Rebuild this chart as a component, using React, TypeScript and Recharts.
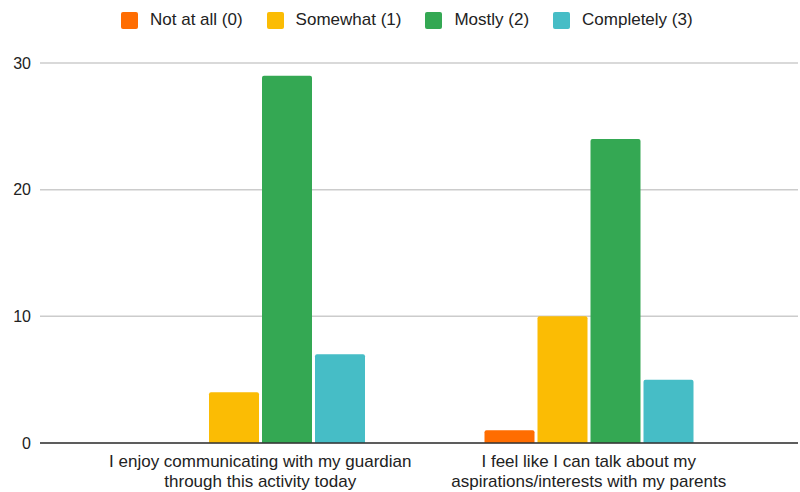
import React from 'react';
import { BarChart, Bar, XAxis, YAxis, CartesianGrid, Text } from 'recharts';

const statements = [
  'I enjoy communicating with my guardian through this activity today',
  'I feel like I can talk about my aspirations/interests with my parents',
];
const notAtAll = [0, 1];
const somewhat = [4, 10];
const mostly = [29, 24];
const completely = [7, 5];
const yTicks = [0, 10, 20, 30];

const SERIES = [
  { key: 'notAtAll', name: 'Not at all (0)', color: '#ff6d01' },
  { key: 'somewhat', name: 'Somewhat (1)', color: '#fbbc04' },
  { key: 'mostly', name: 'Mostly (2)', color: '#34a853' },
  { key: 'completely', name: 'Completely (3)', color: '#46bdc6' },
];

const data = statements.map((s, i) => ({
  statement: s,
  notAtAll: notAtAll[i],
  somewhat: somewhat[i],
  mostly: mostly[i],
  completely: completely[i],
}));

const FONT = 'Arial, "Liberation Sans", sans-serif';

// legend sits above the plot, outside the chart's own layout
const LegendRow = () => (
  <div style={{ position: 'absolute', top: 10, left: 121, display: 'flex', alignItems: 'center', fontFamily: FONT, fontSize: 17, color: '#222', lineHeight: '20px' }}>
    {SERIES.map((s) => (
      <div key={s.key} style={{ display: 'flex', alignItems: 'center', marginRight: 24 }}>
        <span style={{ width: 17, height: 17, background: s.color, borderRadius: 2, marginRight: 12, display: 'inline-block' }} />
        <span>{s.name}</span>
      </div>
    ))}
  </div>
);

const WrappedTick = (props: any) => {
  const { x, y, payload } = props;
  return (
    <Text x={x} y={y + 4} width={320} textAnchor="middle" verticalAnchor="start" lineHeight={20}
      fontSize={17} fontFamily={FONT} style={{ fontFamily: FONT, fontSize: 17 }} fill="#222">
      {payload.value}
    </Text>
  );
};

export default function App() {
  return (
    <div style={{ position: 'absolute', left: 0, top: 0, width: 800, height: 492, background: '#fff' }}>
      <BarChart width={800} height={492} data={data} margin={{ top: 63, right: 2, bottom: 19, left: 0 }}
        barGap={3} barSize={50}>
        <CartesianGrid vertical={false} stroke="#cccccc" strokeWidth={1.5} />
        <XAxis dataKey="statement" tick={<WrappedTick />} tickLine={false} interval={0} height={30}
          axisLine={{ stroke: '#333333', strokeWidth: 1.5 }} padding={{ left: 56, right: 45 }} />
        <YAxis width={40} domain={[0, 30]} ticks={yTicks} tickLine={false} axisLine={false}
          tickSize={0} tickMargin={9} tick={{ fill: '#222', fontSize: 16, fontFamily: FONT }} />
        {SERIES.map((s) => (
          <Bar key={s.key} dataKey={s.key} name={s.name} fill={s.color} radius={[2, 2, 0, 0]}
            isAnimationActive={false} />
        ))}
      </BarChart>
      <LegendRow />
    </div>
  );
}
